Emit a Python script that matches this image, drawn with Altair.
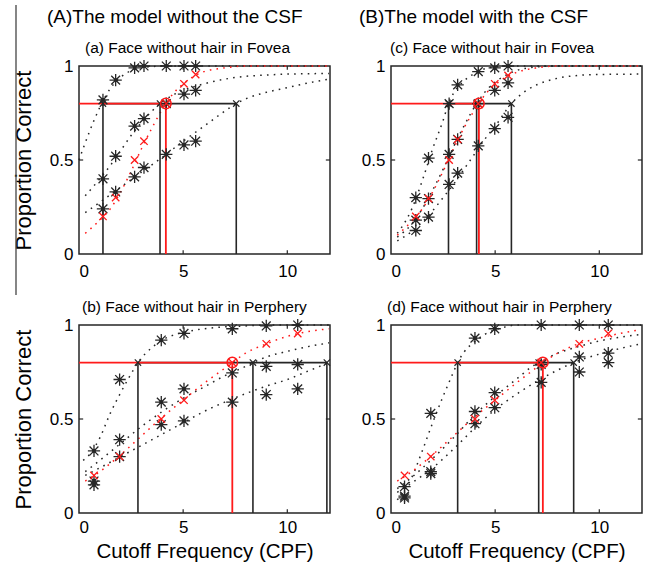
import altair as alt
import pandas as pd

FONT = "Liberation Sans"
BLACK = "#262626"
RED = "#ff1a1a"

X_TICKS = [0, 5, 10]
Y_TICKS = [0, 0.5, 1]
X_MAX = 12.05

COLUMN_TITLES = ["(A)The model without the CSF", "(B)The model with the CSF"]
PANEL_TITLES = ["(a) Face without hair in Fovea", "(b) Face without hair in Perphery",
                "(c) Face without hair in Fovea", "(d) Face without hair in Perphery"]
Y_TITLE = "Proportion Correct"
X_TITLE = "Cutoff Frequency (CPF)"

# ---------------- Panel (a): without CSF, fovea ----------------
A_X = [1.15, 1.76, 2.67, 3.12, 4.19, 5.04, 5.60]
A_TOP = [0.82, 0.925, 0.99, 1.0, 1.0, 1.0, 1.0]
A_MID = [0.40, 0.52, 0.68, 0.72, 0.80, 0.85, 0.87]
A_BOT = [0.24, 0.33, 0.41, 0.46, 0.53, 0.58, 0.60]
A_RED = [0.20, 0.30, 0.50, 0.60, 0.80, 0.905, 0.955]
A_THR = [1.15, 3.89, 7.55]
A_RED_THR = 4.17
A_FIT_TOP_X = [0, 0.5, 1.0, 1.5, 2.0, 2.5, 3.0, 3.5, 4.0, 6.0, 8.0, 10.0, 12.0]
A_FIT_TOP_Y = [0.50, 0.65, 0.78, 0.88, 0.94, 0.975, 0.99, 0.997, 1.0, 1.0, 1.0, 1.0, 1.0]
A_FIT_MID_X = [0.3, 1.0, 1.5, 2.0, 2.5, 3.0, 3.5, 3.89, 4.5, 5.0, 6.0, 7.0, 8.0, 9.0, 10.0, 12.0]
A_FIT_MID_Y = [0.31, 0.40, 0.47, 0.55, 0.63, 0.70, 0.76, 0.80, 0.845, 0.87, 0.905, 0.93, 0.945, 0.952, 0.957, 0.96]
A_FIT_BOT_X = [0.3, 1.0, 2.0, 3.0, 4.0, 5.0, 6.0, 7.0, 7.55, 8.0, 9.0, 10.0, 11.0, 12.0]
A_FIT_BOT_Y = [0.22, 0.275, 0.355, 0.435, 0.515, 0.60, 0.68, 0.76, 0.80, 0.825, 0.86, 0.885, 0.91, 0.93]
A_FIT_RED_X = [0.3, 1.0, 1.5, 2.0, 2.5, 3.0, 3.5, 4.17, 4.5, 5.0, 5.5, 6.0, 7.0, 8.0, 12.0]
A_FIT_RED_Y = [0.11, 0.18, 0.24, 0.33, 0.44, 0.56, 0.67, 0.80, 0.85, 0.905, 0.945, 0.97, 0.99, 1.0, 1.0]

# ---------------- Panel (c): with CSF, fovea ----------------
C_X = [1.19, 1.80, 2.79, 3.20, 4.19, 4.98, 5.62]
C_TOP = [0.30, 0.51, 0.80, 0.90, 0.97, 0.99, 1.0]
C_MID = [0.18, 0.295, 0.53, 0.61, 0.80, 0.87, 0.91]
C_BOT = [0.125, 0.196, 0.37, 0.43, 0.575, 0.667, 0.727]
C_RED = [0.20, 0.295, 0.50, 0.61, 0.80, 0.905, 0.95]
C_THR = [2.76, 4.11, 5.78]
C_RED_THR = 4.22
C_FIT_TOP_X = [0.3, 0.5, 1.0, 1.5, 2.0, 2.5, 2.76, 3.0, 3.5, 4.0, 4.5, 5.0, 6.0, 8.0, 10.0, 12.0]
C_FIT_TOP_Y = [0.11, 0.14, 0.24, 0.39, 0.56, 0.71, 0.80, 0.855, 0.92, 0.96, 0.985, 0.995, 1.0, 1.0, 1.0, 1.0]
C_FIT_MID_X = [0.3, 1.0, 1.5, 2.0, 2.5, 3.0, 3.5, 4.11, 4.5, 5.0, 5.5, 6.0, 7.0, 8.0, 12.0]
C_FIT_MID_Y = [0.09, 0.16, 0.24, 0.34, 0.45, 0.57, 0.68, 0.80, 0.86, 0.915, 0.95, 0.975, 0.995, 1.0, 1.0]
C_FIT_BOT_X = [0.3, 1.0, 1.5, 2.0, 2.5, 3.0, 3.5, 4.0, 4.5, 5.0, 5.78, 6.5, 7.0, 8.0, 9.0, 10.0, 12.0]
C_FIT_BOT_Y = [0.07, 0.12, 0.17, 0.23, 0.30, 0.37, 0.45, 0.53, 0.61, 0.68, 0.80, 0.87, 0.90, 0.935, 0.95, 0.955, 0.957]
C_FIT_RED_X = [0.3, 1.0, 1.5, 2.0, 2.5, 3.0, 3.5, 4.22, 4.5, 5.0, 5.5, 6.0, 7.0, 8.0, 12.0]
C_FIT_RED_Y = [0.10, 0.175, 0.24, 0.33, 0.44, 0.56, 0.67, 0.80, 0.845, 0.90, 0.94, 0.965, 0.99, 1.0, 1.0]

# ---------------- Panel (b): without CSF, periphery ----------------
B_X = [0.72, 1.95, 3.95, 5.04, 7.36, 8.99, 10.50]
B_TOP = [0.33, 0.71, 0.92, 0.955, 0.98, 0.995, 1.0]
B_MID = [0.17, 0.39, 0.59, 0.66, 0.745, 0.78, 0.79]
B_BOT = [0.15, 0.30, 0.47, 0.49, 0.59, 0.63, 0.66]
B_RED = [0.20, 0.30, 0.50, 0.60, 0.80, 0.90, 0.955]
B_THR = [2.83, 8.35, 11.9]
B_RED_THR = 7.36
B_FIT_TOP_X = [0.2, 0.5, 1.0, 1.5, 2.0, 2.5, 2.83, 3.5, 4.0, 4.5, 5.0, 6.0, 7.0, 8.0, 9.0, 12.0]
B_FIT_TOP_Y = [0.28, 0.31, 0.40, 0.53, 0.64, 0.74, 0.80, 0.88, 0.92, 0.945, 0.96, 0.98, 0.99, 0.995, 1.0, 1.0]
B_FIT_MID_X = [0.3, 1, 2, 3, 4, 5, 6, 7, 8, 8.35, 9, 10, 11, 12]
B_FIT_MID_Y = [0.22, 0.28, 0.37, 0.46, 0.54, 0.61, 0.67, 0.73, 0.78, 0.80, 0.83, 0.86, 0.885, 0.905]
B_FIT_BOT_X = [0.3, 1, 2, 3, 4, 5, 6, 7, 8, 9, 10, 11, 12]
B_FIT_BOT_Y = [0.20, 0.24, 0.30, 0.36, 0.42, 0.48, 0.54, 0.59, 0.635, 0.675, 0.71, 0.755, 0.80]
B_FIT_RED_X = [0.3, 1, 2, 3, 4, 5, 6, 7, 7.36, 8, 9, 10, 11, 12]
B_FIT_RED_Y = [0.17, 0.22, 0.31, 0.41, 0.51, 0.60, 0.69, 0.77, 0.80, 0.85, 0.90, 0.94, 0.965, 0.98]

# ---------------- Panel (d): with CSF, periphery ----------------
D_X = [0.65, 1.91, 4.03, 4.98, 7.21, 9.04, 10.43]
D_TOP = [0.14, 0.53, 0.93, 0.98, 1.0, 1.0, 1.0]
D_MID = [0.09, 0.22, 0.54, 0.64, 0.79, 0.83, 0.85]
D_BOT = [0.08, 0.21, 0.475, 0.56, 0.695, 0.75, 0.80]
D_RED = [0.20, 0.30, 0.50, 0.60, 0.80, 0.90, 0.955]
D_THR = [3.20, 7.09, 8.77]
D_RED_THR = 7.29
D_FIT_TOP_X = [0.3, 0.65, 1.0, 1.5, 2.0, 2.5, 3.0, 3.2, 3.5, 4.0, 4.5, 5.0, 5.5, 6.0, 8.0, 12.0]
D_FIT_TOP_Y = [0.07, 0.12, 0.19, 0.33, 0.48, 0.62, 0.75, 0.80, 0.855, 0.91, 0.95, 0.975, 0.99, 1.0, 1.0, 1.0]
D_FIT_MID_X = [0.3, 1, 2, 3, 4, 5, 6, 7, 7.09, 8, 9, 10, 11, 12]
D_FIT_MID_Y = [0.13, 0.19, 0.29, 0.40, 0.52, 0.62, 0.71, 0.795, 0.80, 0.85, 0.885, 0.915, 0.935, 0.95]
D_FIT_BOT_X = [0.3, 1, 2, 3, 4, 5, 6, 7, 8, 8.77, 9, 10, 11, 12]
D_FIT_BOT_Y = [0.11, 0.16, 0.24, 0.34, 0.45, 0.55, 0.63, 0.70, 0.76, 0.80, 0.81, 0.845, 0.875, 0.90]
D_FIT_RED_X = [0.3, 1, 2, 3, 4, 5, 6, 7, 7.29, 8, 9, 10, 11, 12]
D_FIT_RED_Y = [0.17, 0.22, 0.31, 0.41, 0.51, 0.60, 0.69, 0.775, 0.80, 0.85, 0.90, 0.93, 0.955, 0.975]

CRITERION = 0.8
TICK_LEN_X = 0.2   # tick length in x data units (decoration)
TICK_LEN_Y = 0.02  # tick length in y data units (decoration)

ASTERISK = "M-1,0L1,0M0,-1L0,1M-0.72,-0.72L0.72,0.72M-0.72,0.72L0.72,-0.72"
XMARK = "M-1,-1L1,1M-1,1L1,-1"

W, H = 251, 188


def text_layer(txt, dx, dy, size, font=FONT):
    return alt.Chart(pd.DataFrame({"t": [txt]})).mark_text(
        align="left", baseline="alphabetic", fontSize=size, font=font, color="black"
    ).encode(text="t:N", x=alt.value(dx), y=alt.value(dy))


def panel(px, top, mid, bot, red, fits, thr, red_thr, sub, sub_dx,
          ytitle, xtitle, xlabpad, extra=()):
    if xtitle:
        x_axis = alt.Axis(values=X_TICKS, format="d", title=xtitle, labelPadding=xlabpad,
                          titlePadding=6, titleFontSize=20.5)
    else:
        x_axis = alt.Axis(values=X_TICKS, format="d", title=None, labelPadding=xlabpad)
    if ytitle:
        y_axis = alt.Axis(values=Y_TICKS, format="~g", title=ytitle, labelPadding=6,
                          titlePadding=14, titleFontSize=22)
    else:
        y_axis = alt.Axis(values=Y_TICKS, format="~g", title=None, labelPadding=6)
    xs = alt.Scale(domain=[0, X_MAX], nice=False)
    ys = alt.Scale(domain=[0, 1], nice=False)
    X = alt.X("x:Q", scale=xs, axis=x_axis)
    Y = alt.Y("y:Q", scale=ys, axis=y_axis)

    black_pts = pd.DataFrame({"x": px * 3, "y": top + mid + bot})
    red_pts = pd.DataFrame({"x": px, "y": red})
    rows = []
    for name, (fx, fy) in fits.items():
        for a, b in zip(fx, fy):
            rows.append({"x": a, "y": b, "s": name})
    fit_df = pd.DataFrame(rows)
    black_fit = fit_df[fit_df.s != "red"]
    red_fit = fit_df[fit_df.s == "red"]

    vrules = pd.DataFrame({"x": thr, "y": [0] * len(thr), "y2": [CRITERION] * len(thr)})
    hrule = pd.DataFrame({"x": [min(thr)], "x2": [max(thr)], "y": [CRITERION]})
    red_h = pd.DataFrame({"x": [0], "x2": [red_thr], "y": [CRITERION]})
    red_v = pd.DataFrame({"x": [red_thr], "y": [0], "y2": [CRITERION]})
    thr_pts = pd.DataFrame({"x": thr, "y": [CRITERION] * len(thr)})
    red_c = pd.DataFrame({"x": [red_thr], "y": [CRITERION]})

    tk = []
    for t in X_TICKS[1:]:
        tk.append({"x": t, "x2": t, "y": 0, "y2": TICK_LEN_Y})
        tk.append({"x": t, "x2": t, "y": 1 - TICK_LEN_Y, "y2": 1})
    for t in Y_TICKS[1:2]:
        tk.append({"x": 0, "x2": TICK_LEN_X, "y": t, "y2": t})
        tk.append({"x": X_MAX - TICK_LEN_X, "x2": X_MAX, "y": t, "y2": t})
    tk_df = pd.DataFrame(tk)

    dash = [1.6, 5.2]
    layers = [
        alt.Chart(black_fit).mark_line(color=BLACK, strokeDash=dash, strokeWidth=1.5,
                                       interpolate="monotone").encode(x=X, y=Y, detail="s:N"),
        alt.Chart(red_fit).mark_line(color=RED, strokeDash=dash, strokeWidth=1.5,
                                     interpolate="monotone").encode(x=X, y=Y),
        alt.Chart(vrules).mark_rule(color=BLACK, strokeWidth=1.6).encode(x=X, y=Y, y2="y2:Q"),
        alt.Chart(hrule).mark_rule(color=BLACK, strokeWidth=1.6).encode(x=X, x2="x2:Q", y=Y),
        alt.Chart(red_h).mark_rule(color=RED, strokeWidth=1.6).encode(x=X, x2="x2:Q", y=Y),
        alt.Chart(red_v).mark_rule(color=RED, strokeWidth=1.8).encode(x=X, y=Y, y2="y2:Q"),
        alt.Chart(tk_df).mark_rule(color=BLACK, strokeWidth=1.2).encode(x=X, x2="x2:Q", y=Y, y2="y2:Q"),
        alt.Chart(thr_pts).mark_point(shape=XMARK, filled=False, color=BLACK, size=40,
                                      strokeWidth=1.2, opacity=1).encode(x=X, y=Y),
        alt.Chart(black_pts).mark_point(shape=ASTERISK, filled=False, color=BLACK, size=150,
                                        strokeWidth=1.3, opacity=1).encode(x=X, y=Y),
        alt.Chart(black_pts).mark_point(shape="circle", filled=True, color=BLACK, size=14,
                                        opacity=1).encode(x=X, y=Y),
        alt.Chart(red_pts).mark_point(shape=XMARK, filled=False, color=RED, size=55,
                                      strokeWidth=1.3, opacity=1).encode(x=X, y=Y),
        alt.Chart(red_c).mark_point(shape="circle", filled=False, color=RED, size=110,
                                    strokeWidth=1.5, opacity=1).encode(x=X, y=Y),
        text_layer(sub, sub_dx, -13, 15.5),
    ]
    layers.extend(extra)
    return alt.layer(*layers).properties(width=W, height=H)


left_line = alt.Chart(pd.DataFrame({"k": [0]})).mark_rule(color="#444", strokeWidth=1.3).encode(
    x=alt.value(-63), y=alt.value(-61), y2=alt.value(229))

pa = panel(A_X, A_TOP, A_MID, A_BOT, A_RED,
           {"top": (A_FIT_TOP_X, A_FIT_TOP_Y), "mid": (A_FIT_MID_X, A_FIT_MID_Y),
            "bot": (A_FIT_BOT_X, A_FIT_BOT_Y), "red": (A_FIT_RED_X, A_FIT_RED_Y)},
           A_THR, A_RED_THR, PANEL_TITLES[0], 6, Y_TITLE, "", 9,
           extra=[left_line, text_layer(COLUMN_TITLES[0], -32, -43, 19)])
pb = panel(B_X, B_TOP, B_MID, B_BOT, B_RED,
           {"top": (B_FIT_TOP_X, B_FIT_TOP_Y), "mid": (B_FIT_MID_X, B_FIT_MID_Y),
            "bot": (B_FIT_BOT_X, B_FIT_BOT_Y), "red": (B_FIT_RED_X, B_FIT_RED_Y)},
           B_THR, B_RED_THR, PANEL_TITLES[1], 3, Y_TITLE, X_TITLE, 6)
pc = panel(C_X, C_TOP, C_MID, C_BOT, C_RED,
           {"top": (C_FIT_TOP_X, C_FIT_TOP_Y), "mid": (C_FIT_MID_X, C_FIT_MID_Y),
            "bot": (C_FIT_BOT_X, C_FIT_BOT_Y), "red": (C_FIT_RED_X, C_FIT_RED_Y)},
           C_THR, C_RED_THR, PANEL_TITLES[2], -1, "", "", 9,
           extra=[text_layer(COLUMN_TITLES[1], -32, -43, 19)])
pd_ = panel(D_X, D_TOP, D_MID, D_BOT, D_RED,
            {"top": (D_FIT_TOP_X, D_FIT_TOP_Y), "mid": (D_FIT_MID_X, D_FIT_MID_Y),
             "bot": (D_FIT_BOT_X, D_FIT_BOT_Y), "red": (D_FIT_RED_X, D_FIT_RED_Y)},
            D_THR, D_RED_THR, PANEL_TITLES[3], -4, "", X_TITLE, 6)

chart = alt.concat(pa, pc, pb, pd_, columns=2, spacing={"row": 71, "column": 61},
                   bounds="flush").properties(
    padding={"left": 11, "top": 3, "right": 5, "bottom": 5},
    background="white",
).configure_view(
    stroke=BLACK, strokeWidth=1.5
).configure_axis(
    grid=False, domain=False, ticks=False,
    labelFont=FONT, labelFontSize=17, labelColor="black",
    titleFont=FONT, titleFontWeight="normal", titleColor="black",
)

chart.save("out.html", embed_options={"renderer": "svg", "actions": False})
